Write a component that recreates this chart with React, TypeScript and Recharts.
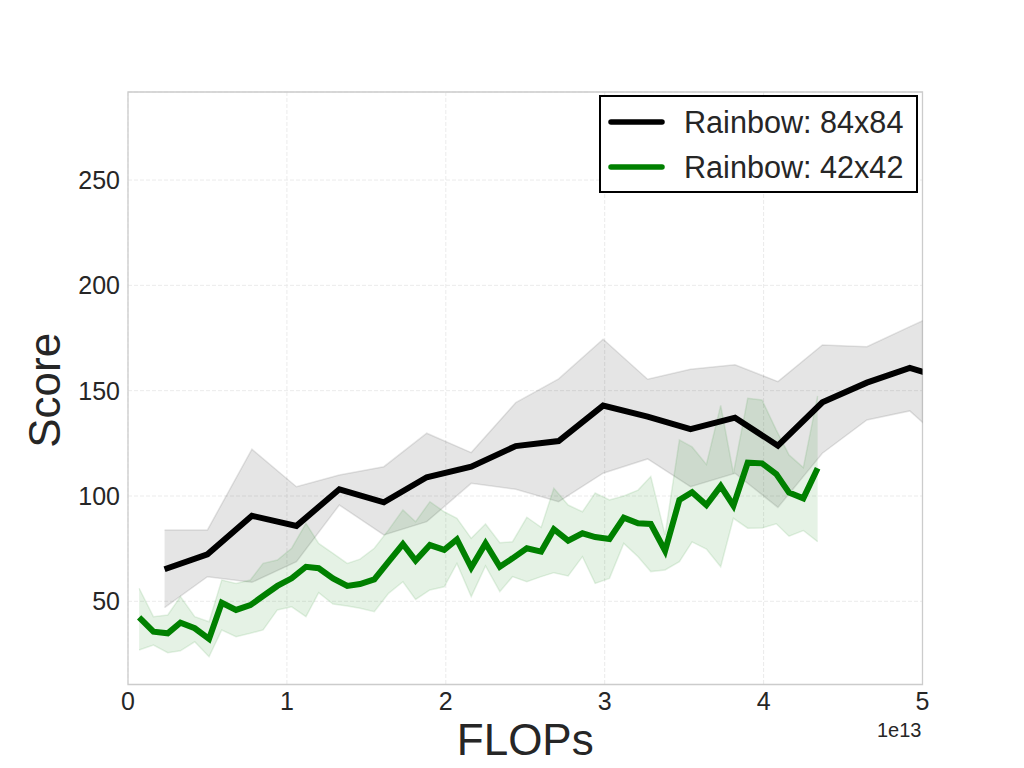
import React from "react";
import {
    Area,
    CartesianGrid,
    ComposedChart,
    Label,
    Legend,
    Line,
    ReferenceArea,
    XAxis,
    YAxis,
} from "recharts";

// FLOPs (x1e13) and scores
const rainbow84X = [0.23, 0.50, 0.78, 1.06, 1.33, 1.61, 1.88, 2.16, 2.44, 2.71, 2.99, 3.27, 3.54, 3.82, 4.09, 4.37, 4.65, 4.92, 5.20];
const rainbow84Mean = [65.2, 72.3, 90.6, 85.8, 103.2, 97.0, 108.9, 113.9, 123.7, 126.1, 142.9, 137.7, 131.7, 137.2, 123.9, 144.5, 153.8, 160.8, 154.4];
const rainbow84Hi = [83.9, 83.9, 122.2, 104.4, 110.0, 113.9, 129.8, 120.6, 144.3, 155.6, 174.4, 155.4, 160.2, 162.3, 154.3, 171.7, 170.9, 180.4, 190.0];
const rainbow84Lo = [47.0, 61.7, 59.0, 68.8, 95.7, 81.5, 87.8, 106.0, 103.2, 97.3, 110.8, 117.6, 104.4, 110.8, 94.6, 120.3, 136.1, 140.4, 121.6];

const rainbow42X = [
    0.07, 0.16, 0.25, 0.33, 0.42, 0.51, 0.59, 0.68, 0.77, 0.85,
    0.94, 1.03, 1.12, 1.20, 1.29, 1.38, 1.46, 1.55, 1.64, 1.73,
    1.81, 1.90, 1.99, 2.07, 2.16, 2.25, 2.34, 2.42, 2.51, 2.60,
    2.68, 2.77, 2.86, 2.94, 3.03, 3.12, 3.21, 3.29, 3.38, 3.47,
    3.55, 3.64, 3.73, 3.81, 3.90, 3.99, 4.08, 4.16, 4.25, 4.34,
];
const rainbow42Mean = [
    42.4, 35.6, 34.8, 39.8, 37.2, 32.1, 49.3, 45.9, 48.2, 52.5,
    57.3, 60.9, 66.4, 65.7, 60.9, 57.3, 58.2, 60.4, 68.8, 77.2,
    69.3, 76.7, 74.4, 79.4, 66.0, 77.5, 66.4, 70.4, 75.2, 73.6,
    84.2, 78.8, 82.3, 80.5, 79.6, 89.7, 87.0, 86.7, 74.0, 98.1,
    101.8, 95.7, 104.7, 95.4, 115.8, 115.5, 110.4, 101.6, 98.9, 113.2,
];
const rainbow42Hi = [
    56.2, 42.7, 43.5, 52.2, 42.7, 40.3, 60.1, 58.5, 60.1, 68.0,
    69.6, 75.2, 87.0, 77.5, 72.8, 68.0, 70.0, 75.2, 83.9, 93.4,
    87.8, 97.3, 92.5, 89.4, 79.9, 86.7, 77.8, 78.3, 89.9, 85.1,
    103.7, 95.7, 92.5, 101.4, 98.1, 100.0, 102.8, 109.2, 81.5, 126.6,
    123.3, 115.0, 143.0, 110.8, 146.4, 145.6, 131.3, 119.5, 113.5, 147.5,
];
const rainbow42Lo = [
    26.9, 29.2, 25.6, 26.5, 30.8, 23.7, 36.4, 33.2, 34.8, 36.4,
    45.9, 47.4, 42.7, 54.1, 48.7, 47.8, 46.7, 45.1, 53.8, 59.3,
    50.9, 55.4, 56.9, 68.0, 52.2, 66.8, 54.6, 61.7, 59.3, 61.7,
    63.6, 62.0, 71.2, 58.5, 60.9, 77.5, 71.2, 64.1, 64.9, 68.8,
    78.2, 74.8, 66.4, 89.4, 84.7, 84.8, 86.8, 80.9, 83.6, 78.3,
];

const xTicks = [0, 1, 2, 3, 4, 5];
const yTicks = [50, 100, 150, 200, 250];
const seriesNames = ["Rainbow: 84x84", "Rainbow: 42x42"];
const seriesColors = ["#000000", "#008000"];

const data84 = rainbow84X.map((x, i) => ({
    x,
    mean: rainbow84Mean[i],
    band: [rainbow84Lo[i], rainbow84Hi[i]],
}));
const data42 = rainbow42X.map((x, i) => ({
    x,
    mean: rainbow42Mean[i],
    band: [rainbow42Lo[i], rainbow42Hi[i]],
}));

const FONT = "'Liberation Sans', Arial, sans-serif";
const TEXT = "#262626";

function LegendBox() {
    return (
        <div
            style={{
                width: 315,
                height: 94,
                border: "2px solid #000",
                background: "#fff",
                fontFamily: FONT,
                fontSize: 30.6,
                color: TEXT,
                boxSizing: "content-box",
            }}
        >
            {seriesNames.map((name, i) => (
                <div key={name} style={{ display: "flex", alignItems: "center", height: 45, marginTop: i === 0 ? 2 : 0 }}>
                    <svg width={83} height={20} style={{ flex: "none" }}>
                        <line x1={10} y1={10} x2={61} y2={10} stroke={seriesColors[i]} strokeWidth={5.5} strokeLinecap="round" />
                    </svg>
                    <span style={{ lineHeight: "30px" }}>{name}</span>
                </div>
            ))}
        </div>
    );
}

export default function App() {
    return (
        <div style={{ position: "absolute", left: 0, top: 0, width: 1024, height: 768, background: "#fff" }}>
            <ComposedChart width={1024} height={768} margin={{ top: 92, right: 101.5, bottom: 0, left: 0 }}>
                <CartesianGrid stroke="#ebebeb" strokeDasharray="4 2" />
                <XAxis
                    type="number"
                    dataKey="x"
                    domain={[0, 5]}
                    allowDataOverflow
                    ticks={xTicks}
                    height={83.5}
                    axisLine={false}
                    tickLine={false}
                    tick={{ fontSize: 25, fill: TEXT, fontFamily: FONT }}
                >
                    <Label
                        content={({ viewBox }: any) => (
                            <g>
                                <text x={viewBox.x + viewBox.width / 2} y={viewBox.y + 70.5} textAnchor="middle" fontSize={44} fill={TEXT} fontFamily={FONT}>
                                    FLOPs
                                </text>
                                <text x={viewBox.x + viewBox.width - 1} y={viewBox.y + 52.5} textAnchor="end" fontSize={20} fill={TEXT} fontFamily={FONT}>
                                    1e13
                                </text>
                            </g>
                        )}
                    />
                </XAxis>
                <YAxis
                    type="number"
                    domain={[10.5, 291.8]}
                    allowDataOverflow
                    ticks={yTicks}
                    width={128}
                    axisLine={false}
                    tickLine={false}
                    tick={{ fontSize: 25, fill: TEXT, fontFamily: FONT }}
                >
                    <Label
                        content={({ viewBox }: any) => {
                            const cx = viewBox.x + 60;
                            const cy = viewBox.y + viewBox.height / 2 + 2;
                            return (
                                <text x={cx} y={cy} transform={`rotate(-90, ${cx}, ${cy})`} textAnchor="middle" fontSize={44} fill={TEXT} fontFamily={FONT}>
                                    Score
                                </text>
                            );
                        }}
                    />
                </YAxis>
                <ReferenceArea x1={0} x2={5} y1={10.5} y2={291.8} fill="none" stroke="#cccccc" strokeWidth={1.3} />
                <Area
                    data={data84}
                    dataKey="band"
                    type="linear"
                    fill="#000000"
                    fillOpacity={0.1}
                    stroke="rgba(0,0,0,0.1)"
                    strokeWidth={1.5}
                    isAnimationActive={false}
                    legendType="none"
                />
                <Area
                    data={data42}
                    dataKey="band"
                    type="linear"
                    fill="#008000"
                    fillOpacity={0.1}
                    stroke="rgba(0,128,0,0.1)"
                    strokeWidth={1.5}
                    isAnimationActive={false}
                    legendType="none"
                />
                <Line
                    data={data84}
                    dataKey="mean"
                    name={seriesNames[0]}
                    type="linear"
                    stroke={seriesColors[0]}
                    strokeWidth={6}
                    dot={false}
                    activeDot={false}
                    isAnimationActive={false}
                />
                <Line
                    data={data42}
                    dataKey="mean"
                    name={seriesNames[1]}
                    type="linear"
                    stroke={seriesColors[1]}
                    strokeWidth={6}
                    dot={false}
                    activeDot={false}
                    isAnimationActive={false}
                />
                <Legend
                    layout="vertical"
                    align="center"
                    verticalAlign="middle"
                    wrapperStyle={{ position: "absolute", left: 599, top: 95, width: "auto" }}
                    content={() => <LegendBox />}
                />
            </ComposedChart>
        </div>
    );
}
